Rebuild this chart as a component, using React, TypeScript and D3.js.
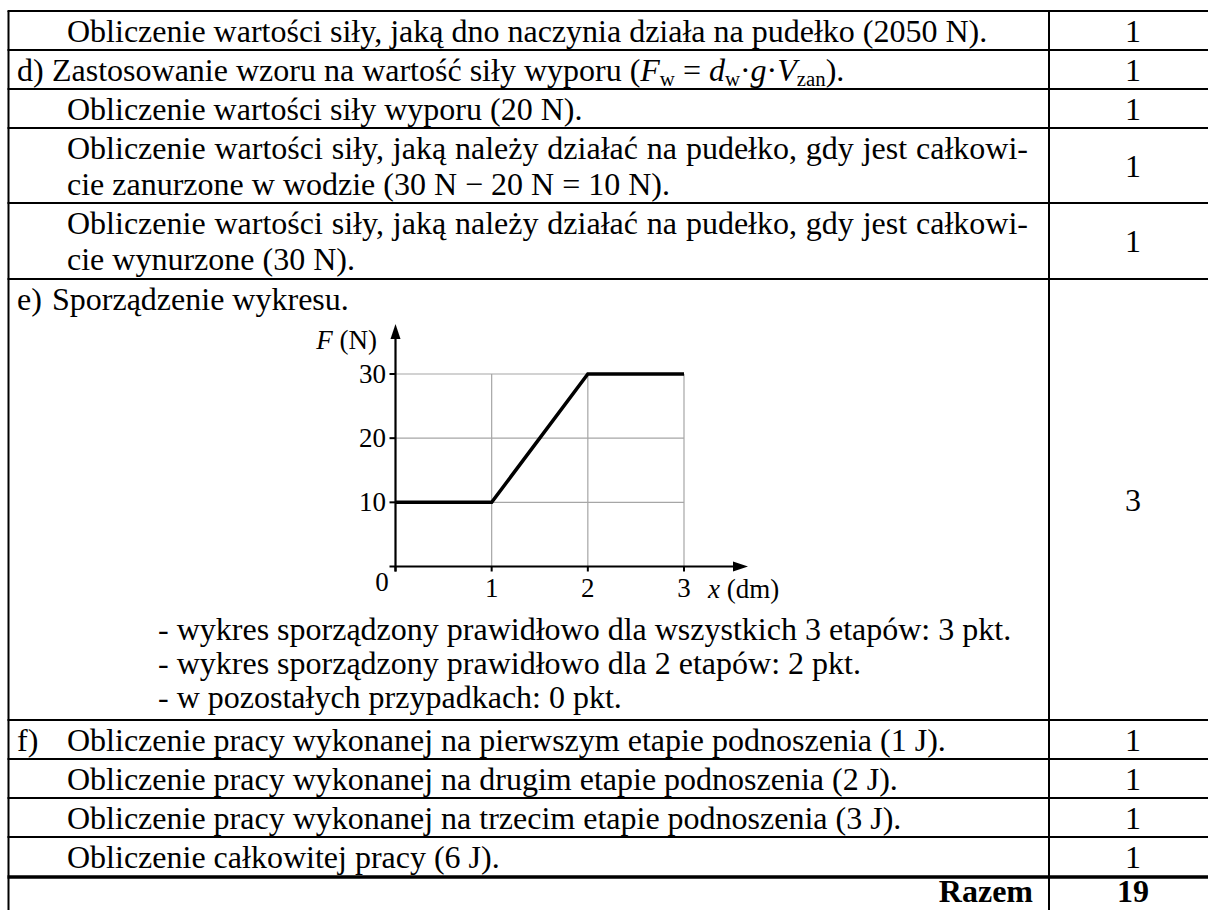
import { useRef, useEffect } from 'react';
import * as d3 from 'd3';

// chart: F (N) against x (dm)
const distance = [0, 1, 2, 3];
const force = [10, 10, 30, 30];
const xTicks = [0, 1, 2, 3];
const yTicks = [10, 20, 30];

// table rows
const rowLabels = ['', 'd)', '', '', '', 'e)', 'f)', '', '', '', ''];
const rowLines: string[][] = [
  ['Obliczenie wartości siły, jaką dno naczynia działa na pudełko (2050 N).'],
  [''],
  ['Obliczenie wartości siły wyporu (20 N).'],
  ['Obliczenie wartości siły, jaką należy działać na pudełko, gdy jest całkowi-', 'cie zanurzone w wodzie (30 N − 20 N = 10 N).'],
  ['Obliczenie wartości siły, jaką należy działać na pudełko, gdy jest całkowi-', 'cie wynurzone (30 N).'],
  ['Sporządzenie wykresu.'],
  ['Obliczenie pracy wykonanej na pierwszym etapie podnoszenia (1 J).'],
  ['Obliczenie pracy wykonanej na drugim etapie podnoszenia (2 J).'],
  ['Obliczenie pracy wykonanej na trzecim etapie podnoszenia (3 J).'],
  ['Obliczenie całkowitej pracy (6 J).'],
  [''],
];
const rowPoints = ['1', '1', '1', '1', '1', '3', '1', '1', '1', '1', '19'];
const bullets = [
  '- wykres sporządzony prawidłowo dla wszystkich 3 etapów: 3 pkt.',
  '- wykres sporządzony prawidłowo dla 2 etapów: 2 pkt.',
  '- w pozostałych przypadkach: 0 pkt.',
];

const FONT = '"Liberation Serif", "Times New Roman", serif';
const FS = 32;

const App = () => {
  const svgRef = useRef<SVGSVGElement>(null);

  useEffect(() => {
    if (!svgRef.current) return;
    const width = 1208;
    const height = 910;
    const svg = d3.select(svgRef.current).attr('width', width).attr('height', height);
    svg.selectAll('*').remove();
    svg.style('font-family', FONT).attr('font-size', FS);

    const left = 8.5;
    const divider = 1049;
    const right = 1218;
    const edges = [11, 50, 89, 128, 203, 279, 720, 759, 798, 837, 877, 916];
    const lineH = 36.5;

    // table text
    rowLines.forEach((lines, i) => {
      const top = edges[i];
      const bottom = edges[i + 1];
      const single = lines.length === 1;
      const label = rowLabels[i];
      const textX = label === 'd)' || label === 'e)' ? 52 : 67;
      if (label) {
        svg.append('text').attr('x', 17).attr('y', top + 30.5).text(label);
      }
      lines.forEach((ln, j) => {
        if (!ln) return;
        const t = svg
          .append('text')
          .attr('x', textX)
          .attr('y', top + 30.5 + j * lineH)
          .text(ln);
        if (!single && j === 0) {
          // justified line of a wrapped paragraph
          const natural = (t.node() as SVGTextElement).getComputedTextLength();
          const spaces = ln.split(' ').length - 1;
          const extra = (1028 - textX - natural) / spaces;
          if (extra > 0) t.attr('word-spacing', extra);
        }
      });
      const last = i === rowLines.length - 1;
      svg
        .append('text')
        .attr('x', 1133)
        .attr('y', last ? 902 : (top + bottom) / 2 + 11)
        .attr('text-anchor', 'middle')
        .attr('font-weight', last ? 'bold' : null)
        .text(rowPoints[i]);
    });

    // d) row with formula
    const sub = FS * 0.65;
    const d = svg.append('text').attr('x', 52).attr('y', edges[1] + 30.5);
    d.append('tspan').text('Zastosowanie wzoru na wartość siły wyporu (');
    d.append('tspan').attr('font-style', 'italic').text('F');
    d.append('tspan').attr('font-size', sub).attr('dy', 5).text('w');
    d.append('tspan').attr('dy', -5).text(' = ');
    d.append('tspan').attr('font-style', 'italic').text('d');
    d.append('tspan').attr('font-size', sub).attr('dy', 5).text('w');
    d.append('tspan').attr('dy', -5).text('·');
    d.append('tspan').attr('font-style', 'italic').text('g');
    d.append('tspan').text('·');
    d.append('tspan').attr('font-style', 'italic').text('V');
    d.append('tspan').attr('font-size', sub).attr('dy', 5).text('zan');
    d.append('tspan').attr('dy', -5).text(').');

    // Razem
    svg
      .append('text')
      .attr('x', 1033)
      .attr('y', 902)
      .attr('text-anchor', 'end')
      .attr('font-weight', 'bold')
      .text('Razem');

    // bullets
    bullets.forEach((b, i) => {
      svg.append('text').attr('x', 158).attr('y', 640 + i * 34).text(b);
    });

    // table grid
    const grid = svg.append('g').attr('stroke', '#000');
    edges.slice(0, -1).forEach((y, i) => {
      grid
        .append('line')
        .attr('x1', left - 1)
        .attr('x2', right)
        .attr('y1', y)
        .attr('y2', y)
        .attr('stroke-width', i === 10 ? 3.5 : 2);
    });
    grid.append('line').attr('x1', left).attr('x2', left).attr('y1', edges[0]).attr('y2', height).attr('stroke-width', 2);
    grid.append('line').attr('x1', divider).attr('x2', divider).attr('y1', edges[0]).attr('y2', height).attr('stroke-width', 2);

    // chart
    const x = d3.scaleLinear().domain([0, 3]).range([395.5, 684]);
    const y = d3.scaleLinear().domain([0, 30]).range([566.5, 374]);
    const chart = svg.append('g');

    chart
      .selectAll('.vgrid')
      .data(xTicks.slice(1))
      .enter()
      .append('line')
      .attr('x1', (v) => x(v))
      .attr('x2', (v) => x(v))
      .attr('y1', y(0))
      .attr('y2', y(30))
      .attr('stroke', '#a6a6a6')
      .attr('stroke-width', 1.2);
    chart
      .selectAll('.hgrid')
      .data(yTicks)
      .enter()
      .append('line')
      .attr('x1', x(0))
      .attr('x2', x(3))
      .attr('y1', (v) => y(v))
      .attr('y2', (v) => y(v))
      .attr('stroke', '#a6a6a6')
      .attr('stroke-width', 1.2);

    // axes with arrows
    chart.append('line').attr('x1', x(0) - 6).attr('x2', 737).attr('y1', y(0)).attr('y2', y(0)).attr('stroke', '#000').attr('stroke-width', 2.2);
    chart.append('line').attr('x1', x(0)).attr('x2', x(0)).attr('y1', y(0) + 5).attr('y2', 334).attr('stroke', '#000').attr('stroke-width', 2.2);
    chart.append('path').attr('d', `M${x(0)},324 L${x(0) - 5},339 L${x(0) + 5},339 Z`).attr('fill', '#000');
    chart.append('path').attr('d', `M748,${y(0)} L733,${y(0) - 5} L733,${y(0) + 5} Z`).attr('fill', '#000');

    chart
      .selectAll('.xtick')
      .data(xTicks)
      .enter()
      .append('line')
      .attr('x1', (v) => x(v))
      .attr('x2', (v) => x(v))
      .attr('y1', y(0))
      .attr('y2', y(0) + 5)
      .attr('stroke', '#000')
      .attr('stroke-width', 2);
    chart
      .selectAll('.ytick')
      .data(yTicks)
      .enter()
      .append('line')
      .attr('x1', x(0) - 6)
      .attr('x2', x(0))
      .attr('y1', (v) => y(v))
      .attr('y2', (v) => y(v))
      .attr('stroke', '#000')
      .attr('stroke-width', 2);

    const tickFont = 27;
    chart
      .selectAll('.xlabel')
      .data(xTicks.slice(1))
      .enter()
      .append('text')
      .attr('x', (v) => x(v))
      .attr('y', 597)
      .attr('text-anchor', 'middle')
      .attr('font-size', tickFont)
      .text((v) => v);
    chart.append('text').attr('x', 382).attr('y', 591).attr('text-anchor', 'middle').attr('font-size', tickFont).text('0');
    chart
      .selectAll('.ylabel')
      .data(yTicks)
      .enter()
      .append('text')
      .attr('x', 386)
      .attr('y', (v) => y(v) + 9)
      .attr('text-anchor', 'end')
      .attr('font-size', tickFont)
      .text((v) => v);

    const fl = chart.append('text').attr('x', 377).attr('y', 349).attr('text-anchor', 'end').attr('font-size', tickFont);
    fl.append('tspan').attr('font-style', 'italic').text('F');
    fl.append('tspan').text(' (N)');
    const xl = chart.append('text').attr('x', 708).attr('y', 598).attr('font-size', tickFont);
    xl.append('tspan').attr('font-style', 'italic').text('x');
    xl.append('tspan').text(' (dm)');

    const line = d3
      .line<number>()
      .x((_, i) => x(distance[i]))
      .y((v) => y(v));
    chart
      .append('path')
      .datum(force)
      .attr('d', line)
      .attr('fill', 'none')
      .attr('stroke', '#000')
      .attr('stroke-width', 3.5);
  }, []);

  return (
    <svg ref={svgRef} style={{ position: 'absolute', left: 0, top: 0, background: '#fff' }}></svg>
  );
};

export default App;
